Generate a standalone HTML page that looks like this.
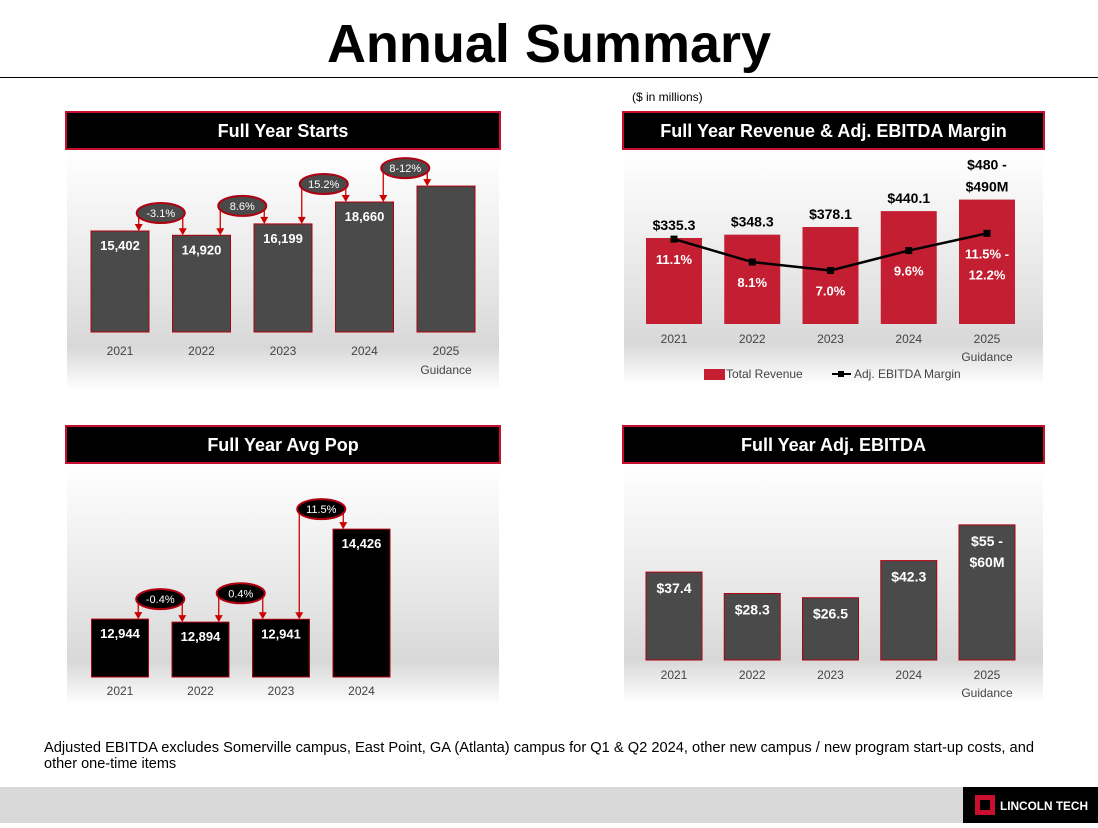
<!DOCTYPE html>
<html><head><meta charset="utf-8"><style>
html,body{margin:0;padding:0;background:#fff}
body{width:1098px;height:823px;overflow:hidden;position:relative;font-family:"Liberation Sans",sans-serif}
svg text{font-family:"Liberation Sans",sans-serif}
</style></head><body>
<svg id="s" width="1098" height="823" viewBox="0 0 1098 823" xmlns="http://www.w3.org/2000/svg">
<defs>
<linearGradient id="bg" x1="0" y1="0" x2="0" y2="1">
<stop offset="0" stop-color="#fff"/><stop offset="0.6" stop-color="#e4e4e4"/><stop offset="0.82" stop-color="#d8d8d8"/><stop offset="1" stop-color="#fff"/>
</linearGradient>
</defs>
<text x="549" y="62" text-anchor="middle" font-size="54" font-weight="bold" fill="#000">Annual Summary</text>
<line x1="0" y1="77.5" x2="1098" y2="77.5" stroke="#000" stroke-width="1"/>
<text x="632" y="101" font-size="12" fill="#000">($ in millions)</text>
<g id="g"></g>
<text x="44" y="752" font-size="14.5" fill="#000" textLength="990" lengthAdjust="spacingAndGlyphs">Adjusted EBITDA excludes Somerville campus, East Point, GA (Atlanta) campus for Q1 &amp; Q2 2024, other new campus / new program start-up costs, and</text>
<text x="44" y="768" font-size="14.5" fill="#000">other one-time items</text>
<rect x="0" y="787" width="1098" height="36" fill="#d9d9d9"/>
<rect x="963" y="787" width="135" height="36" fill="#000"/>
<rect x="975" y="795" width="20" height="20" fill="#c8102e"/>
<rect x="980" y="800" width="10" height="10" fill="#000"/>
<text x="1000" y="810" font-size="12" font-weight="bold" fill="#fff" textLength="88" lengthAdjust="spacingAndGlyphs">LINCOLN TECH</text>
</svg>
<script>
// Full Year Starts
const startsYears=["2021","2022","2023","2024","2025"];
const startsValues=[15402,14920,16199,18660,20450];
const startsLabels=["15,402","14,920","16,199","18,660",""];
const startsGrowth=["-3.1%","8.6%","15.2%","8-12%"];
// Revenue & margin
const revYears=["2021","2022","2023","2024","2025"];
const revValues=[335.3,348.3,378.1,440.1,485];
const revLabels=[["$335.3"],["$348.3"],["$378.1"],["$440.1"],["$480 -","$490M"]];
const marginValues=[11.1,8.1,7.0,9.6,11.85];
const marginLabels=[["11.1%"],["8.1%"],["7.0%"],["9.6%"],["11.5% -","12.2%"]];
// Avg pop
const popYears=["2021","2022","2023","2024"];
const popValues=[12944,12894,12941,14426];
const popLabels=["12,944","12,894","12,941","14,426"];
const popGrowth=["-0.4%","0.4%","11.5%"];
// Adj EBITDA
const ebYears=["2021","2022","2023","2024","2025"];
const ebValues=[37.4,28.3,26.5,42.3,57.5];
const ebLabels=[["$37.4"],["$28.3"],["$26.5"],["$42.3"],["$55 -","$60M"]];

const NS="http://www.w3.org/2000/svg";
const G=document.getElementById('g');
function el(t,a,p){const e=document.createElementNS(NS,t);for(const k in a)e.setAttribute(k,a[k]);(p||G).appendChild(e);return e;}
function txt(x,y,s,a,p){const e=el('text',Object.assign({x:x,y:y,'text-anchor':'middle'},a),p);e.textContent=s;return e;}

function panel(x,y,w,h,title,name){
  const r=el('rect',{x:x+1,y:y+38,width:w-2,height:h-38,fill:'url(#bg)'});
  
  
  const hd=el('rect',{x:x,y:y,width:w,height:37,fill:'#000',stroke:'#c8102e','stroke-width':2});
  
  
  const t=txt(x+w/2,y+25,title,{'font-size':18,'font-weight':'bold',fill:'#fff'});
  
  
}
function xCenter(x0,step,i){return x0+i*step;}

function bubble(cx,cy,label,leftX,leftTop,rightX,rightTop,fill,name){
  const rx=24, ry=10;
  [[leftX,leftTop],[rightX,rightTop]].forEach(function(p){
    const l=el('path',{d:'M'+p[0]+' '+cy+' L'+p[0]+' '+(p[1]-6),stroke:'#c00',fill:'none','stroke-width':1.3});
    
    
    const a=el('path',{d:'M'+(p[0]-4)+' '+(p[1]-7)+' L'+(p[0]+4)+' '+(p[1]-7)+' L'+p[0]+' '+p[1]+'Z',fill:'#c00'});
    
    
  });
  const e=el('ellipse',{cx:cx,cy:cy,rx:rx,ry:ry,fill:fill,stroke:'#b00010','stroke-width':2});
  
  
  const t=txt(cx,cy+4,label,{'font-size':11,fill:'#fff'});
  
  
}

// Panel 1
panel(66,112,434,278,'Full Year Starts','starts');
(function(){
  const base=332, scale=0.0089, min=4054, x0=120, step=81.5, bw=58;
  const yS=v=>base-(v-min)*scale;
  const tops=[];
  startsValues.forEach((v,i)=>{
    const cx=xCenter(x0,step,i), t=yS(v); tops.push(t);
    const b=el('rect',{x:cx-bw/2,y:t,width:bw,height:base-t,fill:'#4a4a4a',stroke:'#b00010','stroke-width':1});
    
    
    if(startsLabels[i]){const l=txt(cx,t+19,startsLabels[i],{'font-size':13,'font-weight':'bold',fill:'#fff'});
      
      }
    const yl=txt(cx,355,startsYears[i],{'font-size':12,fill:'#444'});
    
    
  });
  const g=txt(xCenter(x0,step,4),374,'Guidance',{'font-size':12,fill:'#444'});
  
  
  startsGrowth.forEach((s,i)=>{
    const c1=xCenter(x0,step,i), c2=xCenter(x0,step,i+1);
    const cx=(c1+c2)/2, cy=Math.min(tops[i],tops[i+1])-18;
    bubble(cx,cy,s,cx-22,tops[i],cx+22,tops[i+1],'#4a4a4a','starts-growth-'+(i+1));
  });
})();

// Panel 2
panel(623,112,421,273,'Full Year Revenue & Adj. EBITDA Margin','revenue');
(function(){
  const base=324, scale=0.2565, x0=674, step=78.25, bw=56;
  const yR=v=>base-v*scale, yM=v=>base-v*7.65;
  revValues.forEach((v,i)=>{
    const cx=xCenter(x0,step,i), t=yR(v);
    const b=el('rect',{x:cx-bw/2,y:t,width:bw,height:base-t,fill:'#c41e32'});
    
    
    const L=revLabels[i];
    L.forEach((s,j)=>{const l=txt(cx,t-8-(L.length-1-j)*22,s,{'font-size':14,'font-weight':'bold',fill:'#000'});
      
      });
    const yl=txt(cx,343,revYears[i],{'font-size':12,fill:'#444'});
    
    
  });
  const g=txt(xCenter(x0,step,4),361,'Guidance',{'font-size':12,fill:'#444'});
  
  
  const pts=marginValues.map((v,i)=>xCenter(x0,step,i)+','+yM(v));
  const pl=el('polyline',{points:pts.join(' '),fill:'none',stroke:'#000','stroke-width':2.5});
  
  
  marginValues.forEach((v,i)=>{
    const cx=xCenter(x0,step,i), y=yM(v);
    const m=el('rect',{x:cx-3.5,y:y-3.5,width:7,height:7,fill:'#000'});
    
    
    const L=marginLabels[i];
    L.forEach((s,j)=>{const l=txt(cx,y+25+j*21,s,{'font-size':13,'font-weight':'bold',fill:'#fff'});
      
      });
  });
  const lr=el('rect',{x:704,y:369,width:21,height:11,fill:'#c41e32'});
  
  
  const lt=el('text',{x:726,y:378,'font-size':12,fill:'#444'});lt.textContent='Total Revenue';
  
  
  const ll=el('line',{x1:832,y1:374,x2:851,y2:374,stroke:'#000','stroke-width':2});
  
  
  el('rect',{x:838,y:371,width:6,height:6,fill:'#000'});
  const lm=el('text',{x:854,y:378,'font-size':12,fill:'#444'});lm.textContent='Adj. EBITDA Margin';
  
  
})();

// Panel 3
panel(66,426,434,279,'Full Year Avg Pop','avgpop');
(function(){
  const base=677, scale=0.0607, min=11990, x0=120, step=80.5, bw=57;
  const yP=v=>base-(v-min)*scale;
  const tops=[];
  popValues.forEach((v,i)=>{
    const cx=xCenter(x0,step,i), t=yP(v); tops.push(t);
    const b=el('rect',{x:cx-bw/2,y:t,width:bw,height:base-t,fill:'#000',stroke:'#b00010','stroke-width':1});
    
    
    const l=txt(cx,t+19,popLabels[i],{'font-size':13,'font-weight':'bold',fill:'#fff'});
    
    
    const yl=txt(cx,695,popYears[i],{'font-size':12,fill:'#444'});
    
    
  });
  popGrowth.forEach((s,i)=>{
    const c1=xCenter(x0,step,i), c2=xCenter(x0,step,i+1);
    const cx=(c1+c2)/2, cy=Math.min(tops[i],tops[i+1])-20-(i===1?6:0);
    bubble(cx,cy,s,cx-22,tops[i],cx+22,tops[i+1],'#000','avgpop-growth-'+(i+1));
  });
})();

// Panel 4
panel(623,426,421,277,'Full Year Adj. EBITDA','ebitda');
(function(){
  const base=660, scale=2.35, x0=674, step=78.25, bw=56;
  const yE=v=>base-v*scale;
  ebValues.forEach((v,i)=>{
    const cx=xCenter(x0,step,i), t=yE(v);
    const b=el('rect',{x:cx-bw/2,y:t,width:bw,height:base-t,fill:'#4a4a4a',stroke:'#b00010','stroke-width':1});
    
    
    ebLabels[i].forEach((s,j)=>{const l=txt(cx,t+21+j*21,s,{'font-size':14,'font-weight':'bold',fill:'#fff'});
      
      });
    const yl=txt(cx,679,ebYears[i],{'font-size':12,fill:'#444'});
    
    
  });
  const g=txt(xCenter(x0,step,4),697,'Guidance',{'font-size':12,fill:'#444'});
  
  
})();
</script>
</body></html>
